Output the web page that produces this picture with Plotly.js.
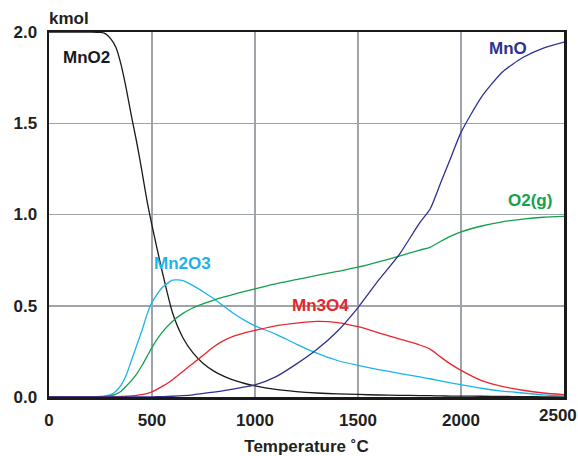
<!DOCTYPE html>
<html>
<head>
<meta charset="utf-8">
<script src="https://cdn.plot.ly/plotly-3.0.1.min.js"></script>
<style>html,body{margin:0;padding:0;background:#fff;}#chart{width:578px;height:456px;}</style>
</head>
<body>
<div id="chart"></div>
<script>
// Temperature (°C)
const temperature = [0, 100, 200, 250, 275, 300, 325, 350, 375, 400, 425, 450, 475, 500, 550, 600, 650, 700, 750, 800, 850, 900, 950, 1000, 1100, 1200, 1300, 1400, 1500, 1600, 1700, 1800, 1850, 1900, 1950, 2000, 2100, 2200, 2300, 2400, 2500];
// Amounts (kmol)
const mnO2  = [2.0, 2.0, 2.0, 1.998, 1.99, 1.962, 1.915, 1.82, 1.69, 1.54, 1.40, 1.245, 1.08, 0.94, 0.685, 0.46, 0.325, 0.24, 0.182, 0.142, 0.113, 0.091, 0.074, 0.061, 0.042, 0.03, 0.022, 0.017, 0.014, 0.011, 0.009, 0.008, 0.007, 0.006, 0.005, 0.005, 0.004, 0.003, 0.002, 0.001, 0.0];
const mn2O3 = [0, 0, 0.001, 0.003, 0.006, 0.013, 0.032, 0.065, 0.12, 0.20, 0.28, 0.36, 0.45, 0.52, 0.60, 0.64, 0.638, 0.61, 0.575, 0.538, 0.496, 0.455, 0.42, 0.39, 0.345, 0.29, 0.24, 0.20, 0.173, 0.15, 0.13, 0.11, 0.10, 0.088, 0.077, 0.068, 0.048, 0.032, 0.022, 0.012, 0.006];
const o2g   = [0, 0, 0.0, 0.001, 0.003, 0.007, 0.016, 0.032, 0.06, 0.09, 0.126, 0.17, 0.22, 0.272, 0.355, 0.415, 0.458, 0.489, 0.512, 0.531, 0.548, 0.564, 0.579, 0.593, 0.62, 0.643, 0.666, 0.688, 0.711, 0.74, 0.772, 0.805, 0.82, 0.852, 0.882, 0.905, 0.937, 0.96, 0.975, 0.985, 0.99];
const mn3O4 = [0, 0, 0, 0, 0, 0.001, 0.002, 0.003, 0.004, 0.006, 0.009, 0.013, 0.019, 0.028, 0.058, 0.095, 0.14, 0.185, 0.23, 0.275, 0.31, 0.335, 0.352, 0.365, 0.39, 0.405, 0.414, 0.408, 0.385, 0.352, 0.318, 0.285, 0.262, 0.22, 0.18, 0.146, 0.09, 0.058, 0.037, 0.022, 0.013];
const mnO   = [0, 0, 0, 0, 0, 0, 0, 0, 0, 0, 0, 0, 0, 0.001, 0.002, 0.004, 0.007, 0.012, 0.02, 0.027, 0.035, 0.045, 0.055, 0.066, 0.11, 0.18, 0.26, 0.36, 0.49, 0.64, 0.78, 0.955, 1.03, 1.17, 1.31, 1.45, 1.645, 1.78, 1.86, 1.912, 1.945];

const seriesNames = ['MnO2', 'Mn2O3', 'O2(g)', 'Mn3O4', 'MnO'];
const xTicks = [0, 500, 1000, 1500, 2000, 2500];
const yTicks = [0, 0.5, 1.0, 1.5, 2.0];
const yTickText = ['0.0', '0.5', '1.0', '1.5', '2.0'];

const colors = ['#1a1a1a', '#1db3ea', '#14a04c', '#e8262d', '#2e3192'];
const series = [mnO2, mn2O3, o2g, mn3O4, mnO];

const traces = series.map((s, i) => ({
  x: temperature, y: s, type: 'scatter', mode: 'lines', name: seriesNames[i],
  line: {color: colors[i], width: 1.3, shape: 'spline', smoothing: 0.6}, hoverinfo: 'skip'
}));

const font = {family: 'Liberation Sans, Arial, sans-serif', size: 17, color: '#231f20', weight: 'bold'};

const labelPos = [[180, 1.86], [646, 0.73], [2337, 1.076], [1317, 0.502], [2228, 1.907]];
const annotations = seriesNames.map((n, i) => ({
  x: labelPos[i][0], y: labelPos[i][1], xref: 'x', yref: 'y', text: n, showarrow: false,
  font: Object.assign({}, font, {color: colors[i]}), xanchor: 'center', yanchor: 'middle'
}));
annotations.push({x: 0, y: 1.036, xref: 'paper', yref: 'paper', text: 'kmol', showarrow: false,
  font: font, xanchor: 'left', yanchor: 'middle', xshift: -2});
// last x tick label, shifted inside the page as in the original
annotations.push({x: xTicks[xTicks.length - 1], y: -0.052, xref: 'x', yref: 'paper',
  text: String(xTicks[xTicks.length - 1]), showarrow: false, font: font,
  xanchor: 'right', yanchor: 'middle', xshift: 15});

const layout = {
  width: 578, height: 456,
  margin: {l: 49, r: 14, t: 32, b: 59},
  paper_bgcolor: '#fff', plot_bgcolor: '#fff',
  showlegend: false,
  font: font,
  xaxis: {
    range: [0, 2500], tickvals: xTicks, ticktext: xTicks.map((t, i) => i === xTicks.length - 1 ? '' : String(t)),
    showgrid: true, gridcolor: '#9ea4a9', gridwidth: 1.5,
    showline: true, linecolor: '#1a1a1a', linewidth: 2.5, mirror: true,
    ticks: 'outside', ticklen: 6, tickcolor: 'rgba(0,0,0,0)',
    tickfont: font, zeroline: false, fixedrange: true,
    title: {text: 'Temperature ˚C', font: font, standoff: 11}
  },
  yaxis: {
    range: [0, 2.0], tickvals: yTicks, ticktext: yTickText,
    showgrid: true, gridcolor: '#9ea4a9', gridwidth: 1.5,
    showline: true, linecolor: '#1a1a1a', linewidth: 2.5, mirror: true,
    ticks: 'outside', ticklen: 6, tickcolor: 'rgba(0,0,0,0)',
    tickfont: font, zeroline: false, fixedrange: true
  },
  annotations: annotations
};

Plotly.newPlot('chart', traces, layout, {displayModeBar: false, staticPlot: true});
</script>
</body>
</html>
